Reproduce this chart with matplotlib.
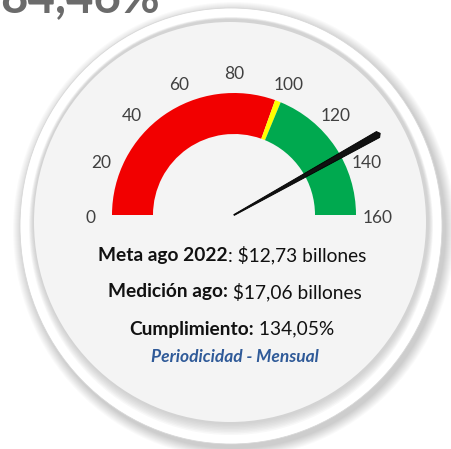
import numpy as np
import matplotlib
matplotlib.use('Agg')
import matplotlib.pyplot as plt
from matplotlib.patches import Ellipse, Wedge, Polygon

# gauge data
gauge_min = 0
gauge_max = 160
tick_values = [0, 20, 40, 60, 80, 100, 120, 140, 160]
band_starts = [0, 97.5, 100]
band_ends = [97.5, 100, 160]
band_colors = ['#F20000', '#FFFF00', '#00A94F']
needle_value = 134.05

headline = '84,46%'
line_bold = ['Meta ago 2022', 'Medición ago:', 'Cumplimiento:']
line_rest = [': $12,73 billones', ' $17,06 billones', ' 134,05%']
footer = 'Periodicidad - Mensual'

W, H = 451, 449
fig = plt.figure(figsize=(W / 100, H / 100), dpi=100)
ax = fig.add_axes([0, 0, 1, 1])
ax.set_xlim(0, W)
ax.set_ylim(0, H)
ax.axis('off')

font = 'Lato'

# soft drop shadow around the disc
for i in range(10):
    ax.add_patch(Ellipse((234, H - 230), 424 + 2 * i, 438 + 2 * i,
                         facecolor='#000000', alpha=0.018, lw=0, zorder=1))
# white rim
ax.add_patch(Ellipse((231, H - 226), 422, 436, facecolor='#FFFFFF',
                     edgecolor='#D8D8D8', lw=0.6, zorder=2))
# inner shadow (heavier at the bottom) + face
for i in range(8):
    ax.add_patch(Ellipse((231, H - 226 + i * 0.6), 404 - 1.2 * i, 418 - 1.8 * i,
                         facecolor='#A8A8A8', alpha=0.08, lw=0, zorder=3))
ax.add_patch(Ellipse((230, H - 222), 392, 400, facecolor='#F4F4F4', lw=0, zorder=4))

# big headline number (cut off at top)
ax.text(160, H - 12, headline, ha='right', va='baseline', fontsize=34,
        fontweight='bold', color='#6B6B6B', family=font, zorder=5)

cx, cy = 234, H - 215
r_out, r_in = 122, 81


def angle_of(v):
    return 180 - (v - gauge_min) * 180 / (gauge_max - gauge_min)


for s, e, c in zip(band_starts, band_ends, band_colors):
    ax.add_patch(Wedge((cx, cy), r_out, angle_of(e), angle_of(s),
                       width=r_out - r_in, facecolor=c, lw=0, zorder=6))

for v in tick_values:
    a = np.radians(angle_of(v))
    ax.text(cx + 144 * np.cos(a), cy + 144 * np.sin(a) - 3, str(v),
            ha='center', va='center', fontsize=12.5, color='#404040',
            family=font, zorder=7)

# tapered needle
a = np.radians(angle_of(needle_value))
L = 165
d = np.array([np.cos(a), np.sin(a)])
n = np.array([-np.sin(a), np.cos(a)])
c0 = np.array([cx, cy])
pts = [c0 + 0.5 * n, c0 + L * d + 3.4 * n, c0 + (L + 2.5) * d,
       c0 + L * d - 3.4 * n, c0 - 0.5 * n]
ax.add_patch(Polygon(pts, closed=True, facecolor='#111111',
                     edgecolor='#000000', lw=0.6, zorder=8))

# text lines
split_x = [228, 228, 254]
ys = [255, 292, 329]
for b, r, sx, y in zip(line_bold, line_rest, split_x, ys):
    ax.text(sx, H - y, b, ha='right', va='center', fontsize=13.8,
            fontweight='bold', color='#111111', family=font, zorder=9)
    ax.text(sx, H - y, r, ha='left', va='center', fontsize=13.8,
            color='#111111', family=font, zorder=9)
ax.text(235, H - 357, footer, ha='center', va='center', fontsize=12.5,
        fontweight='bold', style='italic', color='#2F5A98', family=font,
        zorder=9)

fig.savefig('out.png', dpi=100)
plt.close(fig)
